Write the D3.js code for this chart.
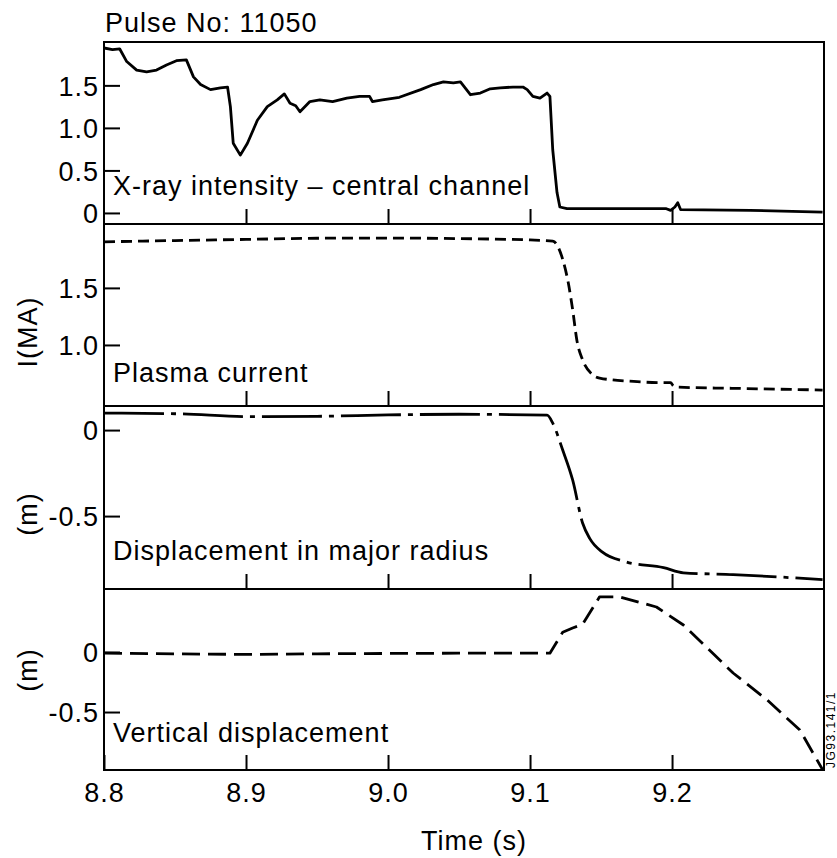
<!DOCTYPE html>
<html>
<head>
<meta charset="utf-8">
<script src="https://cdn.jsdelivr.net/npm/d3@7"></script>
<style>
  body { margin: 0; background: #fff; }
  svg text { font-family: "Liberation Sans", Arial, Helvetica, sans-serif; fill: #000; }
</style>
</head>
<body>
<svg id="chart" width="837" height="858"></svg>
<script>
// ------------------------------------
// data (time in s)
// ------------------------------------
const timeDomain = [8.8, 9.307];
const timeTicks = [8.8, 8.9, 9.0, 9.1, 9.2];
const timeTickLabels = ["8.8", "8.9", "9.0", "9.1", "9.2"];

// X-ray intensity, central channel
const xray = [
  [8.800, 1.94], [8.806, 1.92], [8.811, 1.93], [8.816, 1.78], [8.823, 1.68], [8.830, 1.66],
  [8.837, 1.68], [8.844, 1.74], [8.851, 1.79], [8.858, 1.80], [8.863, 1.60], [8.868, 1.51],
  [8.875, 1.45], [8.882, 1.47], [8.887, 1.48], [8.889, 1.25], [8.891, 0.82], [8.896, 0.68],
  [8.901, 0.82], [8.908, 1.09], [8.915, 1.25], [8.922, 1.33], [8.927, 1.40], [8.931, 1.29],
  [8.935, 1.26], [8.938, 1.19], [8.945, 1.31], [8.952, 1.33], [8.961, 1.31], [8.971, 1.35],
  [8.980, 1.37], [8.987, 1.37], [8.989, 1.31], [8.996, 1.33], [9.008, 1.36], [9.023, 1.45],
  [9.032, 1.51], [9.039, 1.54], [9.046, 1.53], [9.051, 1.54], [9.058, 1.39], [9.065, 1.41],
  [9.072, 1.46], [9.079, 1.47], [9.088, 1.48], [9.095, 1.48], [9.098, 1.45], [9.102, 1.37],
  [9.107, 1.35], [9.112, 1.41], [9.114, 1.37], [9.116, 0.74], [9.119, 0.24], [9.121, 0.07],
  [9.126, 0.05], [9.196, 0.05], [9.199, 0.03], [9.202, 0.07], [9.204, 0.12], [9.206, 0.04],
  [9.255, 0.03], [9.306, 0.01]
];
const xrayDomain = [-0.13, 2.01];
const xrayTicks = [0, 0.5, 1.0, 1.5];
const xrayTickLabels = ["0", "0.5", "1.0", "1.5"];

// plasma current (MA)
const current = [
  [8.800, 1.904], [8.850, 1.915], [8.900, 1.925], [8.950, 1.935], [9.000, 1.937], [9.050, 1.932],
  [9.100, 1.920], [9.116, 1.910], [9.123, 1.75], [9.127, 1.54], [9.130, 1.31], [9.133, 1.04],
  [9.137, 0.87], [9.144, 0.74], [9.149, 0.71], [9.173, 0.68], [9.192, 0.67], [9.199, 0.67],
  [9.201, 0.64], [9.204, 0.63], [9.243, 0.62], [9.306, 0.605]
];
const currentDomain = [0.465, 2.06];
const currentTicks = [1.0, 1.5];
const currentTickLabels = ["1.0", "1.5"];

// displacement in major radius (m)
const radial = [
  [8.800, 0.099], [8.850, 0.095], [8.905, 0.078], [8.950, 0.080], [9.000, 0.088], [9.050, 0.092],
  [9.112, 0.087], [9.116, 0.040], [9.123, -0.116], [9.130, -0.29], [9.137, -0.54], [9.142, -0.63],
  [9.151, -0.71], [9.168, -0.767], [9.194, -0.80], [9.208, -0.83], [9.243, -0.84], [9.306, -0.87]
];
const radialDomain = [-0.924, 0.14];
const radialTicks = [0, -0.5];
const radialTickLabels = ["0", "-0.5"];

// vertical displacement (m)
const vertical = [
  [8.800, -0.010], [8.850, -0.015], [8.900, -0.020], [8.950, -0.015], [9.000, -0.012], [9.050, -0.010],
  [9.114, -0.010], [9.123, 0.165], [9.130, 0.20], [9.137, 0.23], [9.149, 0.46], [9.163, 0.46],
  [9.189, 0.375], [9.208, 0.225], [9.243, -0.175], [9.267, -0.40], [9.290, -0.65], [9.306, -0.98]
];
const verticalDomain = [-0.983, 0.525];
const verticalTicks = [0, -0.5];
const verticalTickLabels = ["0", "-0.5"];

const panelLabels = ["X-ray intensity \u2013 central channel", "Plasma current",
                     "Displacement in major radius", "Vertical displacement"];
const yTitles = ["", "I(MA)", "(m)", "(m)"];

// ------------------------------------
// layout
// ------------------------------------
const svg = d3.select("#chart");
const left = 104, right = 824;
const panelTops = [42, 224, 406, 589];
const bottom = 770;
const fontSize = 27;
const spacing = 1;

const x = d3.scaleLinear().domain(timeDomain).range([left, right]);

const panels = [
  { data: xray, domain: xrayDomain, ticks: xrayTicks, labels: xrayTickLabels,
    dash: null, curve: d3.curveLinear, labelY: 195, titleY: 0 },
  { data: current, domain: currentDomain, ticks: currentTicks, labels: currentTickLabels,
    dash: "11,6", curve: d3.curveMonotoneX, labelY: 382, titleY: 332 },
  { data: radial, domain: radialDomain, ticks: radialTicks, labels: radialTickLabels,
    dash: "60,7,5,7", curve: d3.curveMonotoneX, labelY: 560, titleY: 514 },
  { data: vertical, domain: verticalDomain, ticks: verticalTicks, labels: verticalTickLabels,
    dash: "18,8", curve: d3.curveLinear, labelY: 742, titleY: 670 }
];

function styleText(sel) {
  sel.attr("font-family", "Liberation Sans, Arial, Helvetica, sans-serif")
     .attr("font-size", fontSize)
     .attr("letter-spacing", spacing)
     .attr("fill", "#000");
}

panels.forEach((p, i) => {
  const top = panelTops[i];
  const bot = i < 3 ? panelTops[i + 1] : bottom;
  const y = d3.scaleLinear().domain(p.domain).range([bot, top]);

  // clip so the trace stays inside its box
  svg.append("clipPath").attr("id", "clip" + i)
    .append("rect").attr("x", left).attr("y", top).attr("width", right - left).attr("height", bot - top);

  // y axis, ticks pointing inward
  const yAxis = svg.append("g")
    .attr("transform", `translate(${left},0)`)
    .call(d3.axisLeft(y)
      .tickValues(p.ticks)
      .tickFormat((d, k) => p.labels[k])
      .tickSizeInner(-16)
      .tickSizeOuter(0)
      .tickPadding(5));
  yAxis.select(".domain").remove();
  yAxis.selectAll("line").attr("stroke", "#000").attr("stroke-width", 2);
  yAxis.selectAll("text").call(styleText).attr("dy", "0.36em");

  // x ticks along the bottom of every panel
  const isLast = i === 3;
  const xAxis = svg.append("g")
    .attr("transform", `translate(0,${bot})`)
    .call(d3.axisBottom(x)
      .tickValues(isLast ? timeTicks : timeTicks.slice(1))
      .tickFormat((d, k) => isLast ? timeTickLabels[k] : "")
      .tickSizeInner(-15)
      .tickSizeOuter(0)
      .tickPadding(13));
  xAxis.select(".domain").remove();
  xAxis.selectAll("line").attr("stroke", "#000").attr("stroke-width", 2);
  xAxis.selectAll("text").call(styleText);

  // the trace
  const line = d3.line()
    .x(d => x(d[0]))
    .y(d => y(d[1]))
    .curve(p.curve);

  svg.append("path")
    .datum(p.data)
    .attr("clip-path", `url(#clip${i})`)
    .attr("d", line)
    .attr("fill", "none")
    .attr("stroke", "#000")
    .attr("stroke-width", 2.8)
    .attr("stroke-linejoin", "round")
    .attr("stroke-dasharray", p.dash);

  // frame
  svg.append("rect")
    .attr("x", left).attr("y", top)
    .attr("width", right - left).attr("height", bot - top)
    .attr("fill", "none")
    .attr("stroke", "#000")
    .attr("stroke-width", 2);

  // panel label
  svg.append("text")
    .attr("x", 113).attr("y", p.labelY)
    .text(panelLabels[i])
    .call(styleText);

  // y title
  if (yTitles[i]) {
    svg.append("text")
      .attr("transform", `translate(28,${p.titleY}) rotate(-90)`)
      .attr("text-anchor", "middle")
      .attr("dy", "0.35em")
      .text(yTitles[i])
      .call(styleText);
  }
});

// title and x label
svg.append("text")
  .attr("x", 105).attr("y", 32)
  .text("Pulse No: 11050")
  .call(styleText);

svg.append("text")
  .attr("x", 474).attr("y", 850)
  .attr("text-anchor", "middle")
  .text("Time (s)")
  .call(styleText);

// figure reference along the right edge
svg.append("text")
  .attr("transform", `translate(835,768) rotate(-90)`)
  .attr("font-family", "Liberation Sans, Arial, sans-serif")
  .attr("font-size", 12)
  .attr("letter-spacing", 1.5)
  .text("JG93.141/1");
</script>
</body>
</html>
